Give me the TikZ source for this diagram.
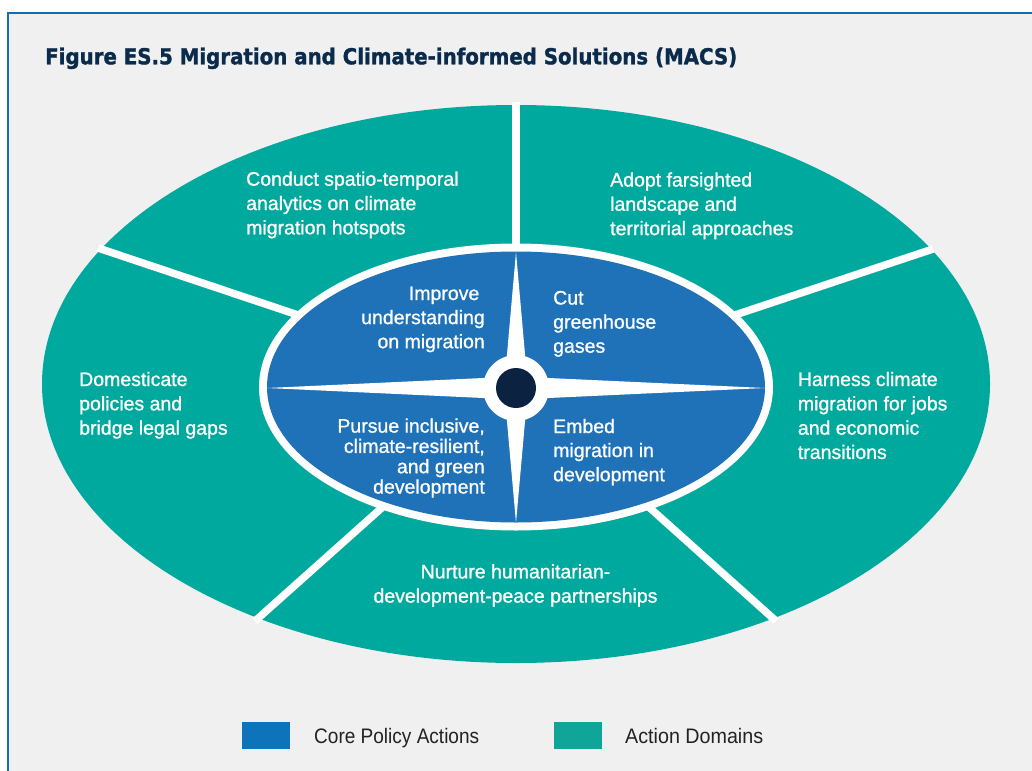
\documentclass[tikz,border=0pt]{standalone}
\usepackage{fontspec}
\setmainfont{Liberation Sans}
\newfontfamily\heavyfont{DejaVu Sans}[FakeBold=1.5]
\newfontfamily\bodyfont{Liberation Sans}[FakeBold=1.0]
\newfontfamily\legfont{Liberation Sans}
\definecolor{bgray}{HTML}{F0F0F0}
\definecolor{framecol}{HTML}{0F6FB0}
\definecolor{tealc}{HTML}{00A99D}
\definecolor{bluec}{HTML}{1F71B8}
\definecolor{navyc}{HTML}{0B2341}
\definecolor{titlec}{HTML}{0A2B4C}
\definecolor{legblue}{HTML}{0E74BA}
\definecolor{legteal}{HTML}{0FA598}
\definecolor{legtext}{HTML}{222222}
\newcommand\tb[2]{\begin{tabular}[t]{@{}#1@{}}#2\end{tabular}}
\tikzset{
  divider/.style={draw=white,line width=7.5pt,line cap=butt},
  domtext/.style={text=white,inner sep=0pt,font=\bodyfont\fontsize{19.5}{24.3}\selectfont},
  coretext/.style={text=white,inner sep=0pt,font=\bodyfont\fontsize{19.5}{24.1}\selectfont},
  tighttext/.style={text=white,inner sep=0pt,font=\bodyfont\fontsize{19.5}{20.3}\selectfont},
  legbox/.style={minimum width=48pt,minimum height=27pt,inner sep=0pt,anchor=north west},
  legtxt/.style={text=legtext,inner sep=0pt,anchor=base west,font=\legfont\fontsize{21}{24}\selectfont}
}
\begin{document}
\begin{tikzpicture}[x=1pt,y=-1pt]
\useasboundingbox (0,0) rectangle (1032,770);
\fill[white] (0,0) rectangle (1032,770);
\fill[bgray] (8.3,13.3) rectangle (1040,780);
\draw[framecol,line width=2pt] (8.3,780) -- (8.3,13.3) -- (1040,13.3);
% title
\node[anchor=base west,inner sep=0pt,text=titlec,font=\heavyfont\bfseries\fontsize{22}{26}\selectfont] (title) at (45,64.3)
  {\resizebox{692pt}{\height}{Figure ES.5 Migration and Climate-informed Solutions (MACS)}};
% outer ellipse
\fill[tealc] (516,384) ellipse [x radius=474, y radius=279];
\coordinate (c) at (516,388);
\coordinate (d1) at (516,102);
\coordinate (d2) at (98,248);
\coordinate (d3) at (933,249);
\coordinate (d4) at (255,621);
\coordinate (d5) at (776,621);
\foreach \d in {d1,d2,d3,d4,d5} \draw[divider] (c) -- (\d);
% inner ellipse with white ring
\fill[white] (516,387) ellipse [x radius=257, y radius=143.5];
\fill[bluec] (516,387) ellipse [x radius=249, y radius=135.5];
% compass star
\fill[white] (765,388) -- (527,377) -- (516,252) -- (505,377) -- (267,388) -- (505,399) -- (516,523) -- (527,399) -- cycle;
\fill[white] (c) circle [radius=33];
\fill[navyc] (c) circle [radius=20];
% action domains
\node[domtext,anchor=base west] (a1) at (246,185.7) {\tb{l}{Conduct spatio-temporal\\analytics on climate\\migration hotspots}};
\node[domtext,anchor=base west] (a2) at (610,186.5) {\tb{l}{Adopt farsighted\\landscape and\\territorial approaches}};
\node[domtext,anchor=base west] (a3) at (79,386) {\tb{l}{Domesticate\\policies and\\bridge legal gaps}};
\node[domtext,anchor=base west] (a4) at (797.7,386) {\tb{l}{Harness climate\\migration for jobs\\and economic\\transitions}};
\node[domtext,anchor=base] (a5) at (515.5,578.3) {\tb{c}{Nurture humanitarian-\\development-peace partnerships}};
% core policy actions
\node[coretext,anchor=base east] (p1) at (485,300) {\tb{r}{Improve\hspace*{5.5pt}\\understanding\\on migration}};
\node[coretext,anchor=base west] (p2) at (553,304.5) {\tb{l}{Cut\\greenhouse\\gases}};
\node[tighttext,anchor=base east] (p3) at (485,432.6) {\tb{r}{Pursue inclusive,\\climate-resilient,\\and green\\development}};
\node[coretext,anchor=base west] (p4) at (553,433) {\tb{l}{Embed\\migration in\\development}};
% legend
\node[legbox,fill=legblue] (lb1) at (242,722) {};
\node[legtxt] (lt1) at (314,743.3) {\resizebox{165pt}{\height}{Core Policy Actions}};
\node[legbox,fill=legteal] (lb2) at (554,722) {};
\node[legtxt] (lt2) at (625,743.3) {\resizebox{138pt}{\height}{Action Domains}};
\end{tikzpicture}
\end{document}
